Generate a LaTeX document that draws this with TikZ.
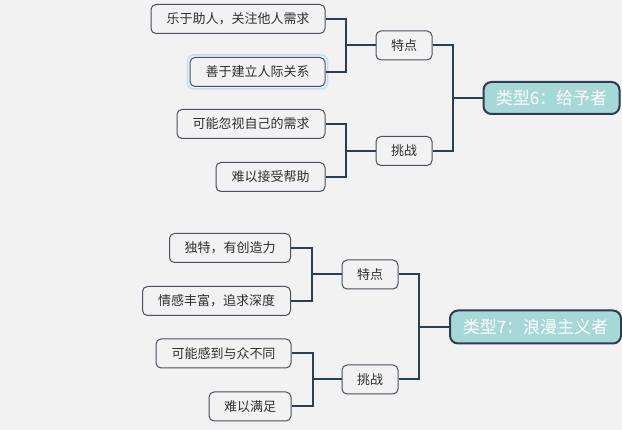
\documentclass[tikz,border=0pt]{standalone}
\usepackage{fontspec}
\newfontfamily\cjk{Noto Sans CJK SC}
\definecolor{bg}{HTML}{F2F2F2}
\definecolor{edge}{HTML}{2C3E50}
\definecolor{boxline}{HTML}{46505E}
\definecolor{rootfill}{HTML}{A7D8D8}
\definecolor{txt}{HTML}{2E2E2E}
\definecolor{glow}{HTML}{BFE0F2}
\begin{document}
\begin{tikzpicture}[x=1pt,y=-1pt,
  leaf/.style={draw=boxline,line width=1pt,fill=bg,rounded corners=5pt,
    minimum height=29pt,inner sep=0pt,text=txt,font=\cjk\fontsize{13}{13}\selectfont},
  rootbox/.style={draw=edge,line width=2pt,fill=rootfill,rounded corners=8pt,
    inner sep=0pt,text=white,font=\cjk\fontsize{17}{17}\selectfont},
  conn/.style={draw=edge,line width=2pt}]
\useasboundingbox[fill=bg] (0,0) rectangle (622,430);
% top section
\node[leaf,minimum width=174pt] (a1) at (238,19) {乐于助人，关注他人需求};
\node[leaf,minimum width=135pt] (a2) at (257.5,72) {善于建立人际关系};
\draw[glow,line width=1.5pt,rounded corners=6pt] ([shift={(-2,-2)}]a2.north west) rectangle ([shift={(2,2)}]a2.south east);
\node[leaf,minimum width=148pt] (a3) at (251,124) {可能忽视自己的需求};
\node[leaf,minimum width=109pt] (a4) at (270.5,177) {难以接受帮助};
\node[leaf,minimum width=56pt] (t1) at (404,45.5) {特点};
\node[leaf,minimum width=56pt] (c1) at (404,151) {挑战};
\node[rootbox,minimum width=136pt,minimum height=32pt] (r6) at (551.5,98) {类型6：给予者};
\draw[conn] (a1.east) -- ++(20,0) |- (t1.west);
\draw[conn] (a2.east) -- ++(20,0) |- (t1.west);
\draw[conn] (a3.east) -- ++(20,0) |- (c1.west);
\draw[conn] (a4.east) -- ++(20,0) |- (c1.west);
\draw[conn] (t1.east) -- ++(20,0) |- (r6.west);
\draw[conn] (c1.east) -- ++(20,0) |- (r6.west);
% bottom section
\node[leaf,minimum width=121pt] (b1) at (230,248) {独特，有创造力};
\node[leaf,minimum width=148pt] (b2) at (216.5,301) {情感丰富，追求深度};
\node[leaf,minimum width=135pt] (b3) at (223.5,353.5) {可能感到与众不同};
\node[leaf,minimum width=82pt] (b4) at (250,406.5) {难以满足};
\node[leaf,minimum width=56pt] (t2) at (370,274.5) {特点};
\node[leaf,minimum width=56pt] (c2) at (370,379.5) {挑战};
\node[rootbox,minimum width=171pt,minimum height=33pt] (r7) at (535.5,327) {类型7：浪漫主义者};
\draw[conn] (b1.east) -- ++(21,0) |- (t2.west);
\draw[conn] (b2.east) -- ++(21,0) |- (t2.west);
\draw[conn] (b3.east) -- ++(21,0) |- (c2.west);
\draw[conn] (b4.east) -- ++(21,0) |- (c2.west);
\draw[conn] (t2.east) -- ++(20,0) |- (r7.west);
\draw[conn] (c2.east) -- ++(20,0) |- (r7.west);
\end{tikzpicture}
\end{document}
